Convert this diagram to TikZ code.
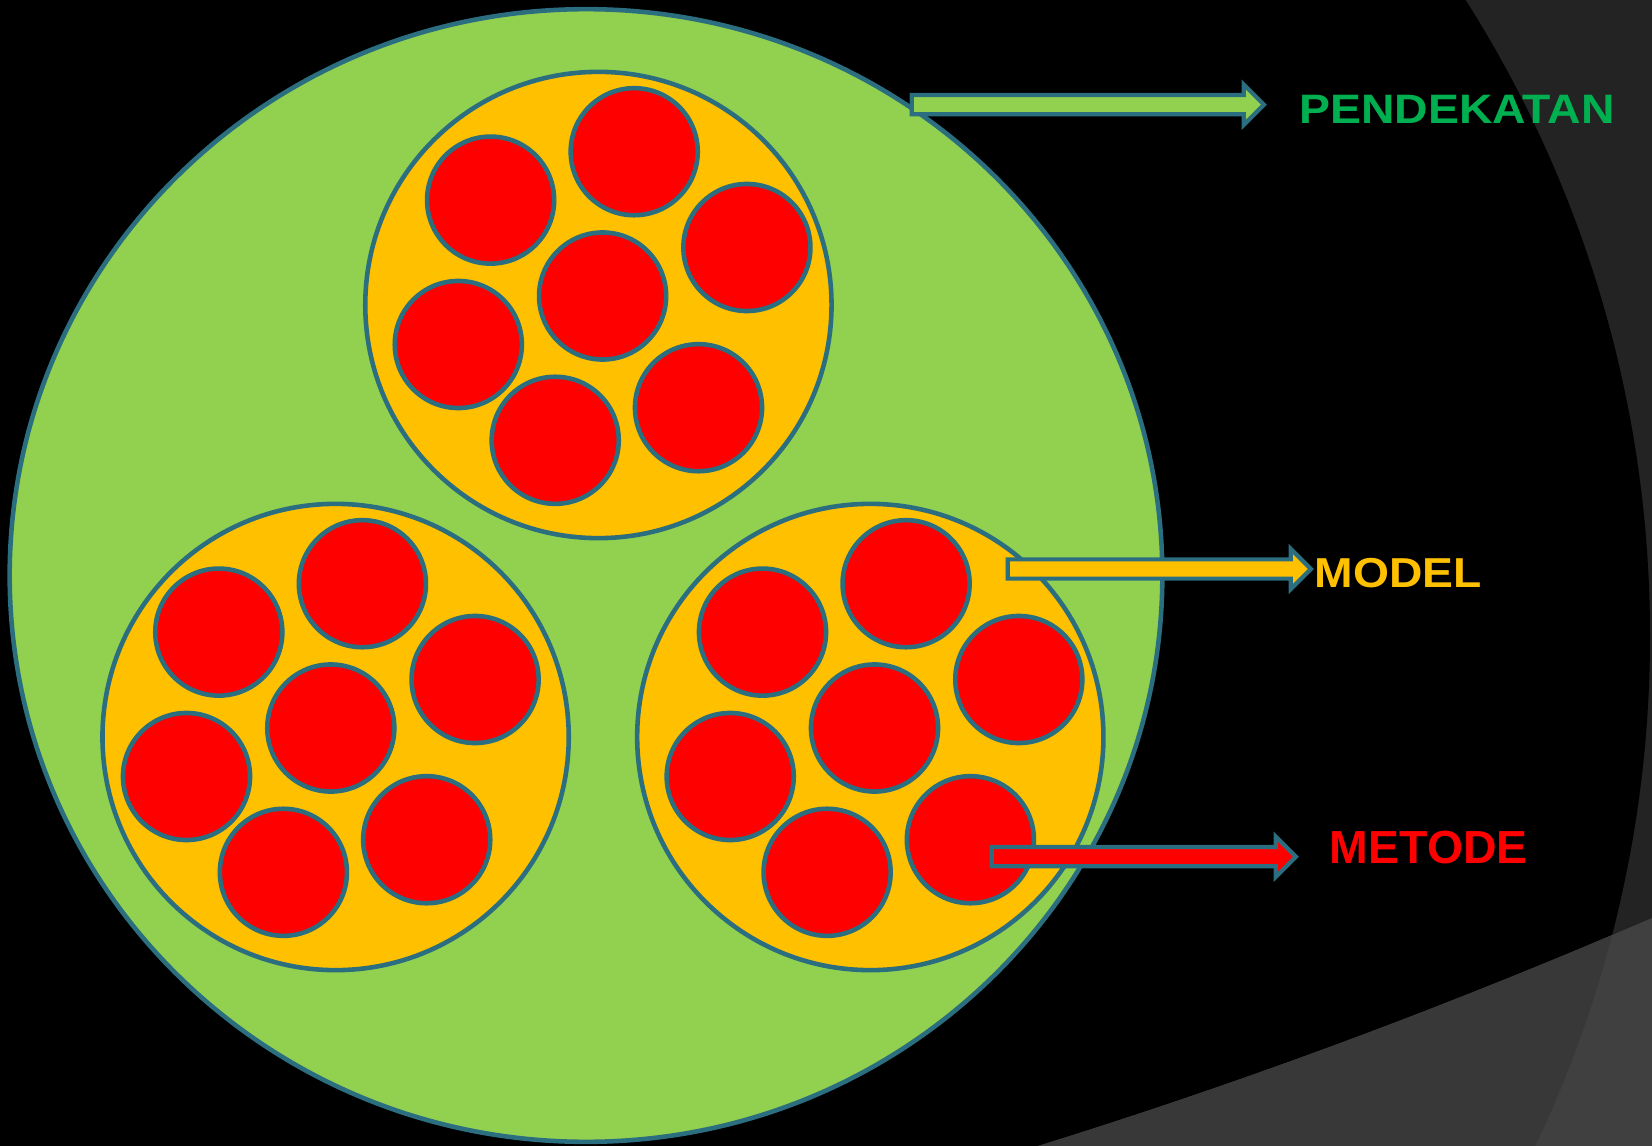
\documentclass[tikz,border=0pt]{standalone}
\usepackage{fontspec}
\setmainfont{Liberation Sans}
\usepackage{graphicx}
\usetikzlibrary{shapes.geometric,shapes.arrows}

\definecolor{edge}{RGB}{42,110,128}
\definecolor{lime}{HTML}{92D050}
\definecolor{amber}{HTML}{FFC000}
\definecolor{kgreen}{HTML}{00B050}
\definecolor{shadeA}{HTML}{232323}
\definecolor{shadeB}{HTML}{383838}
\definecolor{shadeC}{HTML}{404040}

\begin{document}
\begin{tikzpicture}[
  x=0.01cm, y=-0.01cm,
  outer/.style={draw=edge, line width=1.3pt, ellipse, fill=lime, inner sep=0pt,
                minimum width=11.52cm, minimum height=11.32cm},
  cluster/.style={draw=edge, line width=1.3pt, circle, fill=amber, inner sep=0pt,
                  minimum size=4.66cm},
  leaf/.style={draw=edge, line width=1.3pt, circle, fill=red, inner sep=0pt,
               minimum size=1.27cm},
  barrow/.style={draw=edge, line width=1.2pt, single arrow, inner xsep=0pt,
                 inner ysep=0.075cm, single arrow head extend=0.105cm},
  lbl/.style={inner sep=0pt},
]
\useasboundingbox (0,0) rectangle (1652,1146);
% background
\fill[shadeA] (0,0) rectangle (1652,1146);
\fill[black] (462,636) circle (1188);
\begin{scope}
  \clip (1038,1146) .. controls (1250,1080) and (1450,1005) .. (1652,918) -- (1652,1146) -- cycle;
  \fill[shadeC] (0,0) rectangle (1652,1146);
  \fill[shadeB] (462,636) circle (1188);
\end{scope}

\node[outer] (pend) at (586,575.5) {};
\node[cluster] (mod1) at (598.4,305) {};
\node[cluster] (mod2) at (335.6,737) {};
\node[cluster] (mod3) at (870.3,737) {};

% red circles, one ring of six round a middle one
\foreach \c/\cx/\cy in {met1/602.6/296, met2/330.8/728, met3/874.5/728}{
  \node[leaf] (\c-0) at (\cx,\cy) {};
  \foreach \i/\dx/\dy in {1/31.6/-144.3, 2/-112/-95.9, 3/144.3/-48.5,
                          4/-144.3/48.5, 5/95.9/111.7, 6/-47.4/144.3}
    \node[leaf] (\c-\i) at ([shift={(\dx,\dy)}] \c-0.center) {};
}

\node[barrow, fill=lime, minimum height=3.52cm] (arrP) at (1083,104.7) {};
\node[barrow, fill=amber, minimum height=3.03cm] (arrM) at (1154.5,569) {};
\node[barrow, fill=red, minimum height=3.04cm] (arrT) at (1139,856.7) {};

\node[lbl, text=kgreen, font=\bfseries\fontsize{11.7}{14}\selectfont] (labP) at (1457,109.7)
  {\scalebox{1.127}[1]{PENDEKATAN}};
\node[lbl, text=amber, font=\bfseries\fontsize{11.9}{14}\selectfont] (labM) at (1398.3,573.3)
  {\scalebox{1.105}[1]{MODEL}};
\node[lbl, text=red, font=\bfseries\fontsize{13.2}{16}\selectfont] (labT) at (1428.8,847.7)
  {METODE};
\end{tikzpicture}
\end{document}
